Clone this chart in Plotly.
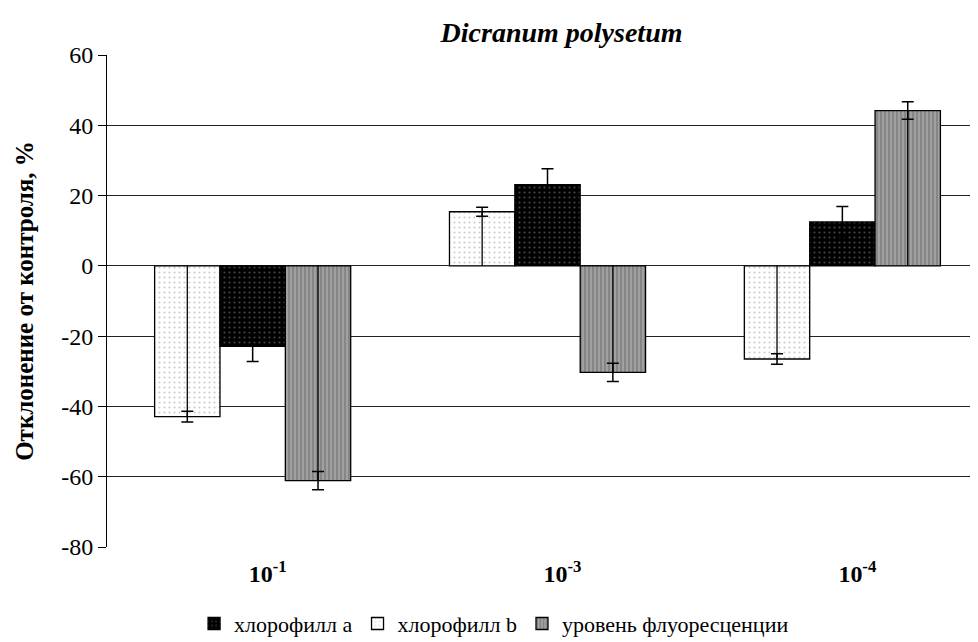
import plotly.graph_objects as go

categories = ["10<sup>-1</sup>", "10<sup>-3</sup>", "10<sup>-4</sup>"]
chl_b = [-42.9, 15.4, -26.5]
chl_b_err = [1.5, 1.3, 1.5]
chl_a = [-22.9, 23.1, 12.5]
chl_a_err = [4.3, 4.5, 4.4]
fluor = [-61.1, -30.3, 44.2]
fluor_err = [2.6, 2.6, 2.5]
y_ticks = [-80, -60, -40, -20, 0, 20, 40, 60]

FONT = "Liberation Serif, Times New Roman, serif"
x_idx = list(range(len(categories)))


def center_line(vals):
    # vertical line from 0 to the bar end, drawn as an error bar on an overlay trace
    up = [-v if v < 0 else 0 for v in vals]
    down = [v if v > 0 else 0 for v in vals]
    return up, down


fig = go.Figure()
fig.add_trace(go.Bar(
    name="хлорофилл b", x=x_idx, y=chl_b, legendrank=2, offsetgroup="b",
    marker=dict(color="white", line=dict(color="black", width=1.3),
                pattern=dict(shape=".", fgcolor="#9a9a9a", bgcolor="white", size=5, solidity=0.15)),
    error_y=dict(type="data", array=chl_b_err, color="black", thickness=1.5, width=6),
))
fig.add_trace(go.Bar(
    name="хлорофилл a", x=x_idx, y=chl_a, legendrank=1, offsetgroup="a",
    marker=dict(color="black", line=dict(color="black", width=1.3),
                pattern=dict(shape=".", fgcolor="#8a8a8a", bgcolor="black", size=5, solidity=0.15)),
    error_y=dict(type="data", array=chl_a_err, color="black", thickness=1.5, width=6),
))
fig.add_trace(go.Bar(
    name="уровень флуоресценции", x=x_idx, y=fluor, legendrank=3, offsetgroup="f",
    marker=dict(color="#8c8c8c", line=dict(color="black", width=1.3),
                pattern=dict(shape="|", fgcolor="#5e5e5e", bgcolor="#a0a0a0", size=4, solidity=0.4)),
    error_y=dict(type="data", array=fluor_err, color="black", thickness=1.5, width=6),
))
for vals, grp in ((chl_b, "b"), (fluor, "f")):
    up, down = center_line(vals)
    fig.add_trace(go.Bar(
        x=x_idx, y=vals, offsetgroup=grp, showlegend=False, hoverinfo="skip",
        marker=dict(color="rgba(0,0,0,0)", line=dict(width=0)),
        error_y=dict(type="data", symmetric=False, array=up, arrayminus=down,
                     color="black", thickness=1.3, width=0),
    ))

fig.update_layout(
    width=978, height=642,
    margin=dict(l=99, r=8, t=47, b=103),
    paper_bgcolor="white", plot_bgcolor="white",
    font=dict(family=FONT, color="black", size=22),
    barmode="group", bargap=0.335, bargroupgap=0,
    title=dict(text="<b><i>Dicranum polysetum</i></b>", x=0.566, xref="container", xanchor="center",
               y=0.963, yref="container", yanchor="middle",
               font=dict(family=FONT, size=28, color="black")),
    showlegend=True,
    legend=dict(orientation="h", x=0.497, xanchor="center", xref="container",
                y=0.041, yref="container", yanchor="middle",
                font=dict(family=FONT, size=22), itemwidth=30, tracegroupgap=0,
                traceorder="normal"),
)
fig.update_xaxes(
    tickmode="array", tickvals=x_idx,
    ticktext=["<b>" + "\u00a0" * 5 + c + "</b>" for c in categories],
    range=[-0.494, 2.46], showline=False, showgrid=False, zeroline=False,
    ticks="", ticklabelstandoff=10, tickfont=dict(family=FONT, size=24),
    automargin=False,
)
fig.update_yaxes(
    range=[-80, 60], tickmode="array", tickvals=y_ticks, ticktext=[str(v) for v in y_ticks],
    showline=True, linecolor="black", linewidth=1,
    ticks="outside", ticklen=8, tickcolor="black",
    showgrid=True, gridcolor="#222222", gridwidth=1,
    zeroline=True, zerolinecolor="#222222", zerolinewidth=1,
    tickfont=dict(family=FONT, size=24),
    title=dict(text="<b>Отклонение от контроля, %</b>", font=dict(family=FONT, size=25), standoff=20),
    automargin=False,
)

fig.write_html("out.html")
